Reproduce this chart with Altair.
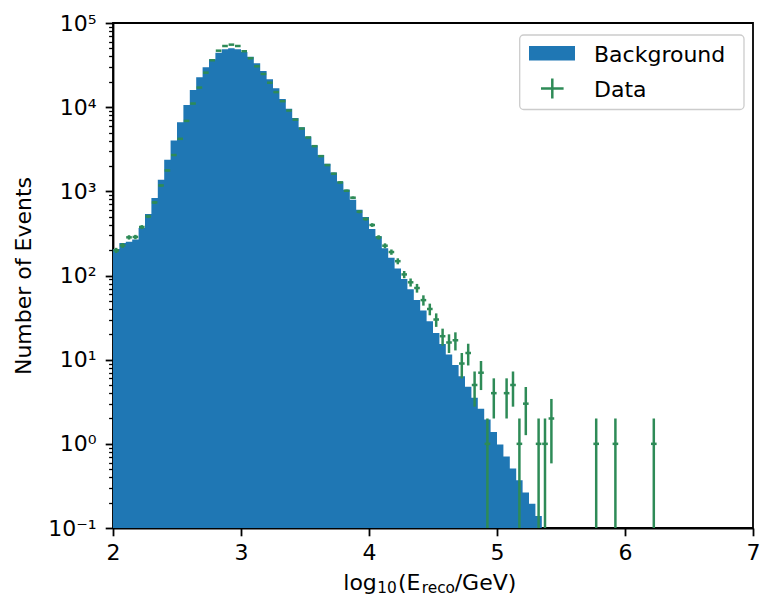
import altair as alt
import numpy as np
import pandas as pd

BLUE = "#1f77b4"
GREEN = "#2e8b57"
FONT = "DejaVu Sans"

BIN_START = 2.0
BIN_WIDTH = 0.05

# Background histogram (expected events per bin, bins of 0.05 starting at 2.0)
background = [207, 244, 252, 267, 367, 538, 834, 1374, 2371, 4018,
              6637, 10641, 16032, 22700, 29800, 37100, 44400, 48750, 50100, 48750,
              45300, 39800, 33260, 26960, 21480, 16800, 12540, 9550, 7410, 5790,
              4480, 3540, 2700, 2120, 1675, 1310, 1045, 794, 605, 496,
              357, 292, 211, 162, 121, 91, 68.7, 51, 38.5, 28.6,
              20.8, 15.3, 11.5, 8.65, 6.37, 4.77, 3.53, 2.61, 1.95, 1.38,
              0.98, 0.705, 0.508, 0.369, 0.264, 0.194, 0.139]

# Observed data counts per bin
data_counts = [199, 228, 284, 287, 377, 504, 738, 1175, 1770, 2700,
               4207, 6870, 11040, 17100, 25700, 36100, 46900, 53300, 55300, 53300,
               46200, 38100, 30600, 24800, 19530, 15100, 11780, 9120, 7110, 5570,
               4360, 3440, 2620, 2050, 1620, 1276, 1016, 840, 573, 469,
               398, 284, 226, 190, 148, 103, 83, 71, 51, 40,
               30, 19, 16, 17, 9, 12, 5, 7, 1, 4,
               0, 4, 5, 1, 3, 0, 1, 1, 2, 0,
               0, 0, 0, 0, 0, 1, 0, 0, 1, 0,
               0, 0, 0, 0, 1]

x_ticks = [2, 3, 4, 5, 6, 7]
y_major = [0.1, 1, 10, 100, 1000, 10000, 100000]
y_labels = ["10⁻¹", "10⁰", "10¹", "10²", "10³", "10⁴", "10⁵"]

Y_MIN, Y_MAX = 0.1, 100000

# ---- tables ----
nb = len(background)
edges = np.round(BIN_START + BIN_WIDTH * np.arange(nb + 1), 4)
hist_df = pd.DataFrame({
    "x": edges,
    "n": list(background) + [background[-1]],
})

nd = len(data_counts)
centers = np.round(BIN_START + BIN_WIDTH * (np.arange(nd) + 0.5), 4)
cnt = np.array(data_counts, dtype=float)
mask = cnt > 0
pts = pd.DataFrame({
    "c": centers[mask],
    "n": cnt[mask],
})
pts["lo"] = np.maximum(pts["n"] - np.sqrt(pts["n"]), Y_MIN)
pts["hi"] = pts["n"] + np.sqrt(pts["n"])
pts["xl"] = pts["c"] - 0.022
pts["xr"] = pts["c"] + 0.022

y_minor = []
for k in range(-1, 5):
    for m in range(2, 10):
        y_minor.append(round(m * 10.0 ** k, 6))
y_vals = y_major + y_minor

label_expr = ""
for v, lab in zip(y_major, y_labels):
    label_expr += f"datum.value == {v} ? '{lab}' : "
label_expr += "''"

major_test = "abs(log(datum.value)/LN10 - round(log(datum.value)/LN10)) < 0.000001"

W, H = 640, 505

xscale = alt.Scale(domain=[2, 7], nice=False, zero=False)
yscale = alt.Scale(type="log", domain=[Y_MIN, Y_MAX], nice=False)

xaxis = alt.Axis(values=x_ticks, title=None, grid=False, tickSize=7.8, tickWidth=1.8,
                 labelPadding=7, labelFontSize=22, labelFont=FONT, format="d",
                 domainWidth=1.8, labelFlush=False)
yaxis = alt.Axis(values=y_vals, labelExpr=label_expr, grid=False,
                 tickSize={"condition": {"test": major_test, "value": 7.8}, "value": 4.4},
                 tickWidth={"condition": {"test": major_test, "value": 1.8}, "value": 1.3},
                 labelPadding=9, labelFontSize=22, labelFont=FONT, domainWidth=1.8,
                 labelFlush=False, labelOverlap=False,
                 title="Number of Events", titleFontSize=22, titleFont=FONT,
                 titleFontWeight="normal", titleX=-83, titleY=H / 2, titleAngle=-90,
                 titleBaseline="alphabetic", titleAlign="center")

hist = alt.Chart(hist_df).mark_area(interpolate="step-after", color=BLUE, opacity=1).encode(
    x=alt.X("x:Q", scale=xscale, axis=xaxis),
    y=alt.Y("n:Q", scale=yscale, axis=yaxis),
    y2=alt.datum(Y_MIN),
)

err_v = alt.Chart(pts).mark_rule(color=GREEN, strokeWidth=2.5).encode(
    x=alt.X("c:Q", scale=xscale),
    y=alt.Y("lo:Q", scale=yscale),
    y2="hi:Q",
)
err_h = alt.Chart(pts).mark_rule(color=GREEN, strokeWidth=2.5).encode(
    x=alt.X("xl:Q", scale=xscale),
    x2="xr:Q",
    y=alt.Y("n:Q", scale=yscale),
)

one = pd.DataFrame({"k": [0]})

LX = W - 646  # legend anchored to the right edge of the plot
legend_box = alt.Chart(one).mark_rect(fill="white", fillOpacity=0.8, stroke="#cccccc",
                                      strokeWidth=1.3, cornerRadius=4).encode(
    x=alt.value(412.7 + LX), x2=alt.value(637 + LX), y=alt.value(12), y2=alt.value(86.5))
legend_patch = alt.Chart(one).mark_rect(fill=BLUE).encode(
    x=alt.value(422 + LX), x2=alt.value(468 + LX), y=alt.value(23), y2=alt.value(37.5))
legend_ph = alt.Chart(one).mark_rule(color=GREEN, strokeWidth=2.5).encode(
    x=alt.value(434 + LX), x2=alt.value(456.6 + LX), y=alt.value(65.5))
legend_pv = alt.Chart(one).mark_rule(color=GREEN, strokeWidth=2.5).encode(
    x=alt.value(445.3 + LX), y=alt.value(55.5), y2=alt.value(75.5))
legend_t1 = alt.Chart(one).mark_text(align="left", baseline="alphabetic", fontSize=22,
                                     font=FONT, color="black").encode(
    x=alt.value(487 + LX), y=alt.value(38.5), text=alt.value("Background"))
legend_t2 = alt.Chart(one).mark_text(align="left", baseline="alphabetic", fontSize=22,
                                     font=FONT, color="black").encode(
    x=alt.value(487 + LX), y=alt.value(73.6), text=alt.value("Data"))

# x-axis title with subscripts: log10(E_reco/GeV)
TX = (W - 646) / 2
title_parts = [("log", 233.3, 567.0, 22), ("10", 267.3, 570.0, 15.4),
               ("(E", 288.0, 567.0, 22), ("reco", 311.7, 570.0, 15.4),
               ("/GeV)", 344.7, 567.0, 22)]
title_layers = []
for txt, tx, ty, fs in title_parts:
    title_layers.append(
        alt.Chart(one).mark_text(align="left", baseline="alphabetic", fontSize=fs,
                                 font=FONT, color="black").encode(
            x=alt.value(tx + TX), y=alt.value(ty), text=alt.value(txt)))

chart = alt.layer(hist, err_v, err_h, legend_box, legend_patch, legend_ph, legend_pv,
                  legend_t1, legend_t2, *title_layers).properties(
    width=W, height=H,
    autosize=alt.AutoSizeParams(type="none"),
    padding={"left": 105, "top": 15, "right": 7, "bottom": 69},
).configure_view(
    stroke="black", strokeWidth=1.8
).configure_axis(
    domainColor="black", tickColor="black", labelColor="black", titleColor="black",
)

chart.save("out.html", embed_options={"renderer": "svg", "actions": False})
